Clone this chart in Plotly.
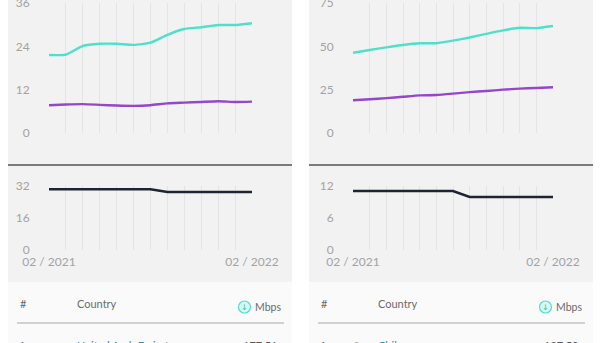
import plotly.graph_objects as go

W, H = 600, 343

months = list(range(13))
month_labels = ["02 / 2021"] + [""] * 11 + ["02 / 2022"]

# Left panel (mobile)
mob_down = [21.6, 21.7, 24.1, 24.7, 24.7, 24.4, 25.0, 27.2, 28.8, 29.3, 29.9, 29.9, 30.4]
mob_up = [7.7, 7.9, 8.0, 7.8, 7.6, 7.5, 7.7, 8.2, 8.4, 8.6, 8.8, 8.6, 8.7]
mob_lat = [30.2, 30.2, 30.2, 30.2, 30.2, 30.2, 30.2, 28.9, 28.9, 28.9, 28.9, 28.9, 28.9]
mob_top_ticks = [0, 12, 24, 36]
mob_bot_ticks = [0, 16, 32]

# Right panel (fixed)
fix_down = [46.3, 47.9, 49.4, 50.8, 51.8, 51.8, 53.3, 55.1, 57.2, 59.2, 60.7, 60.5, 61.7]
fix_up = [18.9, 19.5, 20.1, 20.9, 21.7, 21.9, 22.7, 23.6, 24.2, 25.0, 25.6, 26.0, 26.4]
fix_lat = [11.0, 11.0, 11.0, 11.0, 11.0, 11.0, 11.0, 9.9, 9.9, 9.9, 9.9, 9.9, 9.9]
fix_top_ticks = [0, 25, 50, 75]
fix_bot_ticks = [0, 6, 12]

rows = [("1", "", "United Arab Emirates", "177.51"), ("1", "+3", "Chile", "187.50")]

TEAL = "#4fe0cc"
PURPLE = "#9447c9"
DARK = "#1f2433"
TICK = "#a3a3a3"
GRID = "#e4e4e4"
FONT = "Lato"


def px(x):
    return x / W


def py(y):
    return 1 - y / H


fig = go.Figure()

panels = [
    dict(x0=8, x1=292, ax0=49, ax1=252, down=mob_down, up=mob_up, lat=mob_lat,
         tt=mob_top_ticks, bt=mob_bot_ticks, row=rows[0]),
    dict(x0=309, x1=593, ax0=353, ax1=553, down=fix_down, up=fix_up, lat=fix_lat,
         tt=fix_top_ticks, bt=fix_bot_ticks, row=rows[1]),
]

shapes = []
annotations = []
layout_axes = {}
n = 0
for i, p in enumerate(panels):
    # panel backgrounds
    shapes.append(dict(type="rect", xref="paper", yref="paper", x0=px(p["x0"]), x1=px(p["x1"]),
                       y0=py(282), y1=1.0, fillcolor="#f2f2f2", line_width=0, layer="below"))
    shapes.append(dict(type="rect", xref="paper", yref="paper", x0=px(p["x0"]), x1=px(p["x1"]),
                       y0=0, y1=py(282), fillcolor="#fafafa", line_width=0, layer="below"))
    # separator
    shapes.append(dict(type="line", xref="paper", yref="paper", x0=px(p["x0"]), x1=px(p["x1"]),
                       y0=py(165), y1=py(165), line=dict(color="#7a7a7a", width=2)))

    # top chart
    n += 1
    xa, ya = f"x{n}", f"y{n}"
    for vals, col in ((p["down"], TEAL), (p["up"], PURPLE)):
        fig.add_trace(go.Scatter(x=months, y=vals, mode="lines", xaxis=xa, yaxis=ya,
                                 line=dict(color=col, width=2.4, shape="spline", smoothing=0.5),
                                 showlegend=False, hoverinfo="skip"))
    layout_axes[f"xaxis{n}"] = dict(domain=[px(p["ax0"]), px(p["ax1"])], range=[0, 12],
                                    tickvals=months, showticklabels=False, showgrid=True,
                                    gridcolor=GRID, gridwidth=1, zeroline=False, showline=False,
                                    automargin=False, anchor=ya)
    layout_axes[f"yaxis{n}"] = dict(domain=[py(133), py(3)], range=[0, p["tt"][-1]],
                                    tickvals=p["tt"], showgrid=False, zeroline=False,
                                    ticks="outside", ticklen=16, tickcolor="rgba(0,0,0,0)",
                                    automargin=False, ticklabeloverflow="allow",
                                    tickfont=dict(family=FONT, size=12, color=TICK), anchor=xa)

    # bottom chart
    n += 1
    xa, ya = f"x{n}", f"y{n}"
    fig.add_trace(go.Scatter(x=months, y=p["lat"], mode="lines", xaxis=xa, yaxis=ya,
                             line=dict(color=DARK, width=2.6),
                             showlegend=False, hoverinfo="skip"))
    layout_axes[f"xaxis{n}"] = dict(domain=[px(p["ax0"]), px(p["ax1"])], range=[0, 12],
                                    tickvals=months, ticktext=month_labels, showgrid=True,
                                    gridcolor=GRID, gridwidth=1, zeroline=False, showline=False,
                                    ticks="", tickangle=0, automargin=False,
                                    ticklabelstandoff=3, ticklabeloverflow="allow",
                                    tickfont=dict(family=FONT, size=12, color=TICK), anchor=ya)
    layout_axes[f"yaxis{n}"] = dict(domain=[py(250), py(185.7)], range=[0, p["bt"][-1]],
                                    tickvals=p["bt"], showgrid=False, zeroline=False,
                                    ticks="outside", ticklen=16, tickcolor="rgba(0,0,0,0)",
                                    automargin=False, ticklabeloverflow="allow",
                                    tickfont=dict(family=FONT, size=12, color=TICK), anchor=xa)

    # table header
    off = p["x0"] - 8
    hdr_font = dict(family=FONT, size=11, color="#6b6b6b")
    annotations.append(dict(text="#", x=px(23 + off), y=py(303), xref="paper", yref="paper",
                            showarrow=False, xanchor="center", yanchor="middle", font=hdr_font))
    annotations.append(dict(text="Country", x=px(75 + off), y=py(303), xref="paper", yref="paper",
                            showarrow=False, xanchor="left", yanchor="middle", font=hdr_font))
    annotations.append(dict(text="Mbps", x=px(253 + off), y=py(307), xref="paper", yref="paper",
                            showarrow=False, xanchor="left", yanchor="middle",
                            font=dict(family=FONT, size=10.5, color="#6b6b6b")))
    cx = 244.5 + off
    shapes.append(dict(type="circle", xref="paper", yref="paper", x0=px(cx - 6), x1=px(cx + 6),
                       y0=py(313), y1=py(301), fillcolor="#d9f7f2", line=dict(color=TEAL, width=1.2)))
    annotations.append(dict(text="↓", x=px(cx), y=py(307), xref="paper", yref="paper",
                            showarrow=False, xanchor="center", yanchor="middle",
                            font=dict(family="DejaVu Sans", size=8, color="#2fbfae")))
    shapes.append(dict(type="line", xref="paper", yref="paper", x0=px(17 + off), x1=px(284 + off),
                       y0=py(323), y1=py(323), line=dict(color="#a8a8a8", width=1.2)))

    # first (cut-off) row
    rk, chg, country, val = p["row"]
    ry = py(345)
    row_font = dict(family=FONT, size=11, color="#555555")
    annotations.append(dict(text=rk, x=px(22 + off), y=ry, xref="paper", yref="paper",
                            showarrow=False, xanchor="center", yanchor="middle", font=row_font))
    if chg:
        annotations.append(dict(text=chg, x=px(53 + off), y=ry, xref="paper", yref="paper",
                                showarrow=False, xanchor="center", yanchor="middle",
                                font=dict(family=FONT, size=10, color="#9a9a9a")))
    annotations.append(dict(text=country, x=px(75 + off), y=ry, xref="paper", yref="paper",
                            showarrow=False, xanchor="left", yanchor="middle",
                            font=dict(family=FONT, size=11, color="#2a8fa0")))
    annotations.append(dict(text=val, x=px(280 + off), y=ry, xref="paper", yref="paper",
                            showarrow=False, xanchor="right", yanchor="middle", font=row_font))

fig.update_layout(
    width=W, height=H, margin=dict(l=0, r=0, t=0, b=0, autoexpand=False),
    paper_bgcolor="#ffffff", plot_bgcolor="rgba(0,0,0,0)",
    shapes=shapes, annotations=annotations, showlegend=False,
    **layout_axes,
)

fig.write_html("out.html", config={"displayModeBar": False})
